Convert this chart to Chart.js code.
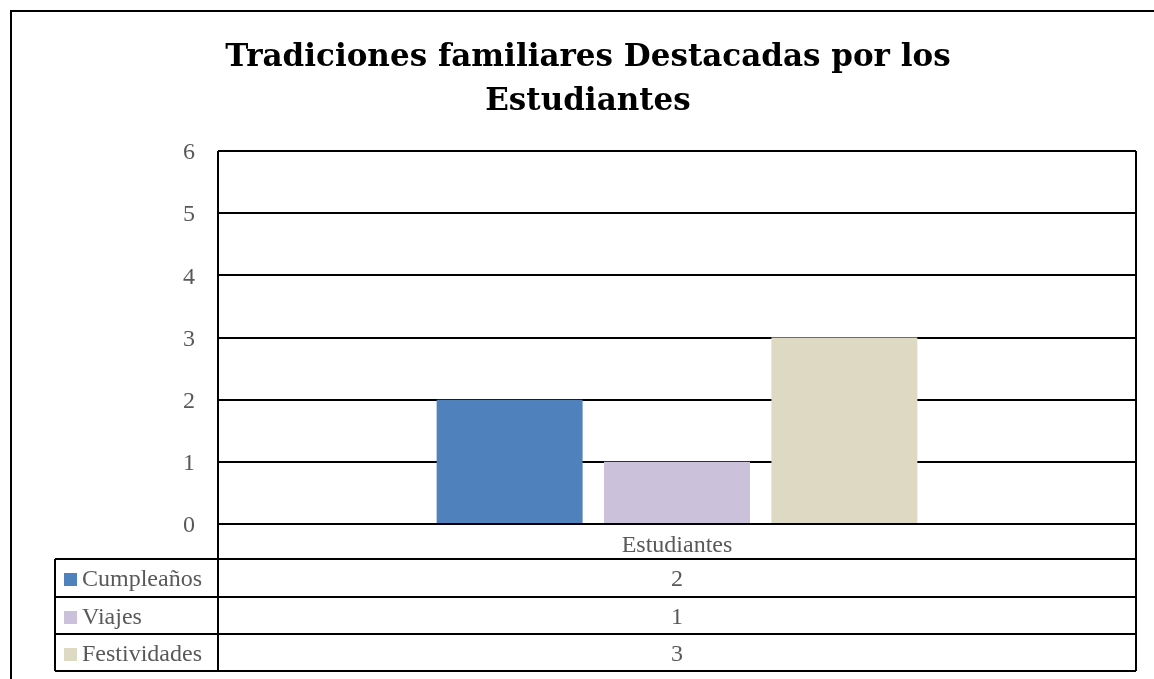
<!DOCTYPE html>
<html>
<head>
<meta charset="utf-8">
<script src="https://cdn.jsdelivr.net/npm/chart.js@4/dist/chart.umd.min.js"></script>
<style>
html,body{margin:0;padding:0;background:#fff;}
#wrap{position:relative;width:1154px;height:679px;}
</style>
</head>
<body>
<div id="wrap"><canvas id="c" width="1154" height="679"></canvas></div>
<script>
const titleLines = ["Tradiciones familiares Destacadas por los", "Estudiantes"];
const categories = ["Estudiantes"];
const seriesNames = ["Cumpleaños", "Viajes", "Festividades"];
const cumpleanos = [2];
const viajes = [1];
const festividades = [3];
const seriesColors = ["#4F81BD", "#CCC1DA", "#DDD9C3"];
const yTicks = [0, 1, 2, 3, 4, 5, 6];

const seriesValues = [cumpleanos, viajes, festividades];
const TITLEFONT = "'DejaVu Serif',serif";
const SERIF = "'Liberation Serif','DejaVu Serif',serif";
const GREY = "#595959";

const frame = {
  id: 'frame',
  beforeDraw(chart) {
    const ctx = chart.ctx;
    ctx.save();
    ctx.fillStyle = '#fff';
    ctx.fillRect(0, 0, chart.width, chart.height);
    ctx.strokeStyle = '#000';
    ctx.lineWidth = 2;
    ctx.beginPath();
    ctx.moveTo(11, chart.height);
    ctx.lineTo(11, 11);
    ctx.lineTo(chart.width, 11);
    ctx.stroke();
    ctx.fillStyle = '#000';
    ctx.font = "bold 31px " + TITLEFONT;
    ctx.textAlign = 'center';
    ctx.textBaseline = 'alphabetic';
    ctx.fillText(titleLines[0], 588, 66);
    ctx.fillText(titleLines[1], 588, 110);
    ctx.restore();
  },
  afterDraw(chart) {
    const ctx = chart.ctx;
    const a = chart.chartArea;
    const x = chart.scales.x;
    const rows = [a.bottom, 559, 597, 634, 671];
    const legLeft = 55;
    ctx.save();
    ctx.strokeStyle = '#000';
    ctx.lineWidth = 2;
    ctx.beginPath();
    ctx.moveTo(a.left, a.top); ctx.lineTo(a.left, rows[4]);
    ctx.moveTo(a.right, a.top); ctx.lineTo(a.right, rows[4]);
    ctx.moveTo(legLeft, rows[1]); ctx.lineTo(legLeft, rows[4]);
    ctx.moveTo(a.left, rows[0]); ctx.lineTo(a.right, rows[0]);
    for (let i = 1; i < rows.length; i++) {
      ctx.moveTo(legLeft, rows[i]); ctx.lineTo(a.right, rows[i]);
    }
    ctx.stroke();
    ctx.font = "24px " + SERIF;
    ctx.fillStyle = GREY;
    ctx.textBaseline = 'alphabetic';
    ctx.textAlign = 'center';
    categories.forEach((cat, ci) => {
      const cx = x.getPixelForValue(ci);
      ctx.fillText(cat, cx, rows[0] + 28);
      seriesValues.forEach((vals, si) => {
        ctx.fillText(String(vals[ci]), cx, rows[si + 1] + 27);
      });
    });
    ctx.textAlign = 'left';
    seriesNames.forEach((name, si) => {
      const top = rows[si + 1];
      ctx.fillStyle = seriesColors[si];
      ctx.fillRect(64, top + 14, 13, 13);
      ctx.fillStyle = GREY;
      ctx.fillText(name, 82, top + 27);
    });
    ctx.restore();
  }
};

new Chart(document.getElementById('c'), {
  type: 'bar',
  data: {
    labels: categories,
    datasets: seriesNames.map((n, i) => ({
      label: n,
      data: seriesValues[i],
      backgroundColor: seriesColors[i],
      borderWidth: 0,
      barPercentage: 0.872,
      categoryPercentage: 0.547
    }))
  },
  options: {
    responsive: false,
    animation: false,
    devicePixelRatio: 1,
    layout: { padding: { left: 0, top: 151, right: 18, bottom: 155 } },
    plugins: { legend: { display: false }, title: { display: false }, tooltip: { enabled: false } },
    scales: {
      x: { display: false },
      y: {
        min: yTicks[0],
        max: yTicks[yTicks.length - 1],
        afterBuildTicks(scale) { scale.ticks = yTicks.map(v => ({ value: v })); },
        afterFit(scale) { scale.width = 218; },
        border: { display: false },
        grid: { color: '#000', lineWidth: 2, drawTicks: false },
        ticks: { color: GREY, padding: 23, labelOffset: 2, font: { family: SERIF, size: 24 } }
      }
    }
  },
  plugins: [frame]
});
</script>
</body>
</html>
